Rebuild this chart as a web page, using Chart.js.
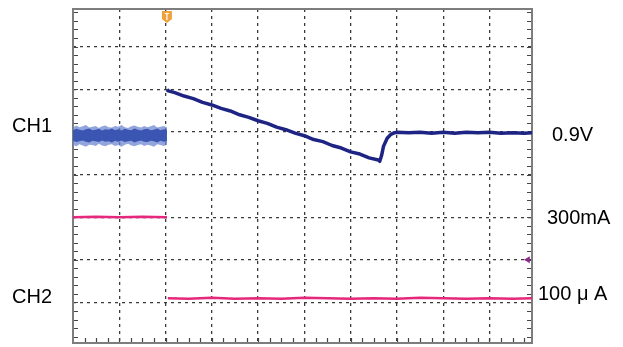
<!DOCTYPE html>
<html>
<head>
<meta charset="utf-8">
<script src="https://cdn.jsdelivr.net/npm/chart.js@4.4.0/dist/chart.umd.min.js"></script>
<style>
  html, body { margin: 0; padding: 0; background: #fff; }
  #wrap { position: relative; width: 623px; height: 347px; overflow: hidden; }
  #chart { position: absolute; left: 0; top: 0; }
  .lbl {
    position: absolute;
    font-family: 'Liberation Sans', Arial, sans-serif;
    font-size: 20px;
    line-height: 20px;
    color: #000;
    white-space: nowrap;
    transform: translateY(-50%);
  }
</style>
</head>
<body>
<div id="wrap"><canvas id="chart" width="623" height="347"></canvas></div>
<script>
// === escala (divisiones de la pantalla) ===
const xMax = 9.92;
const yMin = -0.95;
const yMax = 6.88;
const gridX = [1, 2, 3, 4, 5, 6, 7, 8, 9];
const gridY = [0, 1, 2, 3, 4, 5, 6];
const triggerX = 2.03;

// === CH1: banda de ruido antes del disparo ===
const ch1BandX = [0, 0.07, 0.14, 0.21, 0.28, 0.35, 0.42, 0.49, 0.56, 0.63, 0.70, 0.77, 0.84, 0.91, 0.98,
  1.05, 1.12, 1.19, 1.26, 1.33, 1.40, 1.47, 1.54, 1.61, 1.68, 1.75, 1.82, 1.89, 1.96, 2.03];
const ch1OuterTop = [4.10, 4.15, 4.11, 4.13, 4.16, 4.10, 4.12, 4.14, 4.09, 4.13, 4.15, 4.11, 4.10, 4.14, 4.12,
  4.16, 4.11, 4.09, 4.13, 4.15, 4.12, 4.10, 4.14, 4.11, 4.13, 4.16, 4.10, 4.12, 4.14, 4.11];
const ch1OuterBottom = [3.70, 3.66, 3.71, 3.68, 3.65, 3.70, 3.69, 3.67, 3.72, 3.68, 3.66, 3.70, 3.71, 3.67, 3.69,
  3.65, 3.70, 3.72, 3.68, 3.66, 3.69, 3.71, 3.67, 3.70, 3.68, 3.65, 3.71, 3.69, 3.67, 3.70];
const ch1InnerTop = [4.04, 4.07, 4.05, 4.03, 4.06, 4.08, 4.04, 4.05, 4.07, 4.03, 4.06, 4.05, 4.08, 4.04, 4.06,
  4.03, 4.07, 4.05, 4.04, 4.08, 4.05, 4.03, 4.06, 4.07, 4.04, 4.05, 4.08, 4.04, 4.06, 4.05];
const ch1InnerBottom = [3.79, 3.76, 3.78, 3.80, 3.77, 3.75, 3.79, 3.78, 3.76, 3.80, 3.77, 3.78, 3.75, 3.79, 3.77,
  3.80, 3.76, 3.78, 3.79, 3.75, 3.78, 3.80, 3.77, 3.76, 3.79, 3.78, 3.75, 3.79, 3.77, 3.78];

// === CH1: traza despues del disparo ===
const ch1X = [2.03, 2.06, 2.2, 2.4, 2.6, 2.8, 3.0, 3.2, 3.4, 3.6, 3.8, 4.0, 4.2, 4.4, 4.6, 4.8,
  5.0, 5.2, 5.4, 5.6, 5.8, 6.0, 6.2, 6.4, 6.6, 6.63, 6.67, 6.71, 6.79, 6.87, 6.95, 7.01,
  7.25, 7.5, 7.75, 8.0, 8.25, 8.5, 8.75, 9.0, 9.25, 9.5, 9.75, 9.92];
const ch1Y = [4.99, 4.96, 4.92, 4.84, 4.78, 4.69, 4.63, 4.55, 4.49, 4.40, 4.34, 4.26, 4.20, 4.11, 4.05, 3.97,
  3.91, 3.82, 3.77, 3.68, 3.62, 3.53, 3.48, 3.39, 3.34, 3.31, 3.45, 3.66, 3.85, 3.94, 3.98, 3.99,
  3.98, 3.99, 3.97, 3.99, 3.97, 3.99, 3.98, 3.99, 3.97, 3.98, 3.97, 3.98];

// === CH2 ===
const ch2PreX = [0, 0.5, 1.0, 1.5, 2.03];
const ch2PreY = [2.00, 2.01, 2.00, 2.01, 2.00];
const ch2PostX = [2.05, 2.5, 3.0, 3.5, 4.0, 4.5, 5.0, 5.5, 6.0, 6.5, 7.0, 7.5, 8.0, 8.5, 9.0, 9.5, 9.92];
const ch2PostY = [0.10, 0.09, 0.11, 0.09, 0.10, 0.09, 0.11, 0.10, 0.09, 0.10, 0.09, 0.11, 0.10, 0.09, 0.10, 0.09, 0.10];
const ch2MarkerX = [9.83];
const ch2MarkerY = [1.0];

// === textos ===
const leftLabels = ['CH1', 'CH2'];
const leftLevels = [4.15, 0.15];
const rightLabels = ['0.9V', '300mA', '100 μ A'];
const rightLevels = [3.95, 2.0, 0.22];

const zip = (xs, ys) => xs.map((x, i) => ({ x, y: ys[i] }));

const band = (data, color, fill) => ({
  data, fill, backgroundColor: color, borderWidth: 0, pointRadius: 0, tension: 0
});

const scopePlugin = {
  id: 'scope',
  beforeDatasetsDraw(chart) {
    const { ctx, chartArea: a, scales: { x, y } } = chart;
    ctx.save();
    ctx.strokeStyle = '#444';
    ctx.lineWidth = 1.2;
    ctx.beginPath();
    // marcas menores: izquierda y derecha
    for (let v = -0.8; v < yMax; v += 0.2) {
      const py = Math.round(y.getPixelForValue(v)) + 0.5;
      ctx.moveTo(a.left, py); ctx.lineTo(a.left + 5, py);
      ctx.moveTo(a.right, py); ctx.lineTo(a.right - 5, py);
    }
    // marcas menores: abajo
    for (let v = 0.25; v < xMax; v += 0.25) {
      const px = Math.round(x.getPixelForValue(v)) + 0.5;
      ctx.moveTo(px, a.bottom); ctx.lineTo(px, a.bottom - 5);
    }
    ctx.stroke();
    ctx.strokeStyle = '#7d7d7d';
    ctx.lineWidth = 2;
    ctx.strokeRect(a.left, a.top, a.right - a.left, a.bottom - a.top);
    ctx.restore();
  },
  afterDraw(chart) {
    const { ctx, chartArea: a, scales: { x } } = chart;
    const px = x.getPixelForValue(triggerX);
    const top = a.top + 2;
    ctx.save();
    ctx.fillStyle = '#efa23c';
    ctx.beginPath();
    ctx.moveTo(px - 5, top);
    ctx.lineTo(px + 5, top);
    ctx.lineTo(px + 5, top + 8);
    ctx.lineTo(px, top + 12);
    ctx.lineTo(px - 5, top + 8);
    ctx.closePath();
    ctx.fill();
    ctx.strokeStyle = '#fff';
    ctx.lineWidth = 1.2;
    ctx.beginPath();
    ctx.moveTo(px, top + 2.5); ctx.lineTo(px, top + 9);
    ctx.moveTo(px - 2, top + 2.5); ctx.lineTo(px + 2, top + 2.5);
    ctx.stroke();
    ctx.restore();
  }
};

const chart = new Chart(document.getElementById('chart'), {
  type: 'line',
  data: {
    datasets: [
      {
        data: zip(ch1X, ch1Y), borderColor: '#1e2484', borderWidth: 3.5, pointRadius: 0, tension: 0,
        fill: false, borderJoinStyle: 'round'
      },
      { data: zip(ch2PostX, ch2PostY), borderColor: '#e5287c', borderWidth: 2.5, pointRadius: 0, tension: 0, fill: false },
      { data: zip(ch2PreX, ch2PreY), borderColor: '#e5287c', borderWidth: 2.5, pointRadius: 0, tension: 0, fill: false },
      {
        data: zip(ch2MarkerX, ch2MarkerY), showLine: false, pointStyle: 'triangle', rotation: 270,
        pointRadius: 4, pointBackgroundColor: '#8c2b8c', pointBorderColor: '#8c2b8c', pointBorderWidth: 0
      },
      band(zip(ch1BandX, ch1InnerTop), '#3a55b2', '+1'),
      band(zip(ch1BandX, ch1InnerBottom), '#3a55b2', false),
      band(zip(ch1BandX, ch1OuterTop), 'rgba(110,135,210,0.75)', '+1'),
      band(zip(ch1BandX, ch1OuterBottom), 'rgba(110,135,210,0.75)', false)
    ]
  },
  options: {
    responsive: false,
    animation: false,
    events: [],
    layout: { padding: { left: 73, right: 91, top: 9, bottom: 3 } },
    plugins: { legend: { display: false }, tooltip: { enabled: false } },
    scales: {
      x: {
        type: 'linear', min: 0, max: xMax,
        afterBuildTicks: s => { s.ticks = gridX.map(value => ({ value })); },
        ticks: { display: false },
        grid: { color: '#3a3a3a', lineWidth: 1.3, drawTicks: false },
        border: { display: false, dash: [3, 4] }
      },
      y: {
        type: 'linear', min: yMin, max: yMax,
        afterBuildTicks: s => { s.ticks = gridY.map(value => ({ value })); },
        ticks: { display: false },
        grid: { color: '#3a3a3a', lineWidth: 1.3, drawTicks: false },
        border: { display: false, dash: [3, 4] }
      }
    }
  },
  plugins: [scopePlugin]
});

// etiquetas de texto colocadas con la escala y
const wrap = document.getElementById('wrap');
const addLabel = (text, left, level) => {
  const el = document.createElement('div');
  el.className = 'lbl';
  el.textContent = text;
  el.style.left = left + 'px';
  el.style.top = chart.scales.y.getPixelForValue(level) + 'px';
  wrap.appendChild(el);
};
const leftX = [12, 12];
const rightX = [552, 547, 538];
leftLabels.forEach((t, i) => addLabel(t, leftX[i], leftLevels[i]));
rightLabels.forEach((t, i) => addLabel(t, rightX[i], rightLevels[i]));
</script>
</body>
</html>
